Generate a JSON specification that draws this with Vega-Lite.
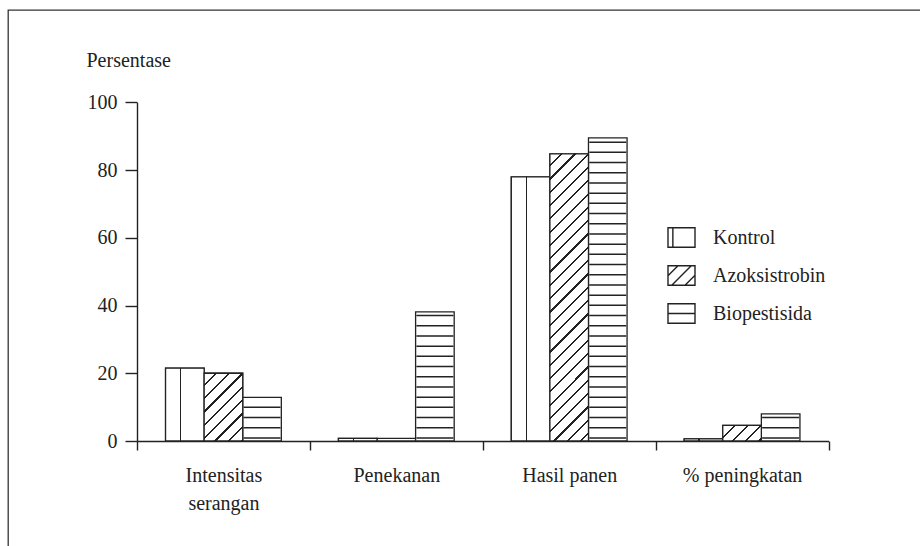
{
  "$schema": "https://vega.github.io/schema/vega-lite/v6.json",
  "width": 912,
  "height": 536,
  "autosize": "none",
  "padding": {"left": 8, "top": 10, "right": 0, "bottom": 0},
  "background": "white",
  "config": {
    "view": {"stroke": "#333", "strokeWidth": 1.3, "strokeDash": [912, 1448, 536]},
    "font": "Liberation Serif",
    "axisY": {
      "orient": "left", "offset": -129, "grid": false,
      "tickSize": 12, "tickWidth": 1.4, "tickColor": "#222", "domainColor": "#222", "domainWidth": 1.4,
      "labelPadding": 8, "labelFont": "Liberation Serif", "labelFontSize": 20, "labelColor": "#222",
      "titleAngle": 0, "titleX": -51, "titleY": 56, "titleAlign": "left",
      "titleBaseline": "alphabetic", "titleFont": "Liberation Serif", "titleFontSize": 20,
      "titleFontWeight": "normal", "titleColor": "#222"
    }
  },
  "data": {
    "values": [
      {"cat": "Intensitas serangan", "treat": "Kontrol", "value": 21.5},
      {"cat": "Intensitas serangan", "treat": "Azoksistrobin", "value": 20.0},
      {"cat": "Intensitas serangan", "treat": "Biopestisida", "value": 12.9},
      {"cat": "Penekanan", "treat": "Kontrol", "value": 0.8},
      {"cat": "Penekanan", "treat": "Azoksistrobin", "value": 0.8},
      {"cat": "Penekanan", "treat": "Biopestisida", "value": 38.1},
      {"cat": "Hasil panen", "treat": "Kontrol", "value": 78.0},
      {"cat": "Hasil panen", "treat": "Azoksistrobin", "value": 84.8},
      {"cat": "Hasil panen", "treat": "Biopestisida", "value": 89.5},
      {"cat": "% peningkatan", "treat": "Kontrol", "value": 0.6},
      {"cat": "% peningkatan", "treat": "Azoksistrobin", "value": 4.6},
      {"cat": "% peningkatan", "treat": "Biopestisida", "value": 8.0}
    ]
  },
  "encoding": {
    "x": {
      "field": "cat", "type": "nominal",
      "sort": ["Intensitas serangan", "Penekanan", "Hasil panen", "% peningkatan"],
      "scale": {"range": [129, 820.5], "paddingInner": 0, "paddingOuter": 0},
      "axis": {
        "orient": "bottom", "offset": -105, "title": null, "tickBand": "extent",
        "tickSize": 9, "tickWidth": 1.4, "tickColor": "#222", "domainColor": "#222", "domainWidth": 1.4,
        "labelAngle": 0, "labelPadding": 15, "labelFont": "Liberation Serif", "labelFontSize": 20,
        "labelColor": "#222", "labelLineHeight": 28, "labelLimit": 300,
        "labelExpr": "datum.value == 'Intensitas serangan' ? ['Intensitas', 'serangan'] : datum.label"
      }
    },
    "xOffset": {
      "field": "treat", "type": "nominal",
      "sort": ["Kontrol", "Azoksistrobin", "Biopestisida"],
      "scale": {"paddingInner": 0, "paddingOuter": 0.74}
    },
    "y": {
      "field": "value", "type": "quantitative",
      "scale": {"domain": [0, 100], "range": [431, 92.3], "nice": false},
      "axis": {"title": "Persentase", "values": [0, 20, 40, 60, 80, 100]}
    }
  },
  "layer": [
    {
      "mark": {"type": "bar", "fill": "#fff", "stroke": "#222", "strokeWidth": 1.3}
    },
    {
      "transform": [{"filter": "datum.treat == 'Kontrol'"}],
      "mark": {"type": "bar", "stroke": "#222", "strokeWidth": 1.3,
        "fill": {"gradient": "linear", "x1": 0, "y1": 0, "x2": 1, "y2": 0, "stops": [
          {"offset": 0, "color": "#fff"}, {"offset": 0.37, "color": "#fff"},
          {"offset": 0.37, "color": "#222"}, {"offset": 0.41, "color": "#222"},
          {"offset": 0.41, "color": "#fff"}, {"offset": 1, "color": "#fff"}]}}
    },
    {
      "transform": [{"filter": "datum.treat == 'Azoksistrobin' && datum.cat == 'Intensitas serangan'"}],
      "mark": {"type": "bar", "stroke": "#222", "strokeWidth": 1.3,
        "fill": {"gradient": "linear", "x1": 0, "y1": 0, "x2": 0.6751, "y2": 1.1851, "stops": [
          {"offset": 0, "color": "#fff"},
          {"offset": 0.1025, "color": "#fff"}, {"offset": 0.1025, "color": "#222"}, {"offset": 0.1232, "color": "#222"}, {"offset": 0.1232, "color": "#fff"},
          {"offset": 0.2276, "color": "#fff"}, {"offset": 0.2276, "color": "#222"}, {"offset": 0.2483, "color": "#222"}, {"offset": 0.2483, "color": "#fff"},
          {"offset": 0.3527, "color": "#fff"}, {"offset": 0.3527, "color": "#222"}, {"offset": 0.3734, "color": "#222"}, {"offset": 0.3734, "color": "#fff"},
          {"offset": 0.4778, "color": "#fff"}, {"offset": 0.4778, "color": "#222"}, {"offset": 0.4985, "color": "#222"}, {"offset": 0.4985, "color": "#fff"},
          {"offset": 0.6029, "color": "#fff"}, {"offset": 0.6029, "color": "#222"}, {"offset": 0.6235, "color": "#222"}, {"offset": 0.6235, "color": "#fff"},
          {"offset": 0.7279, "color": "#fff"}, {"offset": 0.7279, "color": "#222"}, {"offset": 0.7486, "color": "#222"}, {"offset": 0.7486, "color": "#fff"},
          {"offset": 0.8530, "color": "#fff"}, {"offset": 0.8530, "color": "#222"}, {"offset": 0.8737, "color": "#222"}, {"offset": 0.8737, "color": "#fff"},
          {"offset": 0.9781, "color": "#fff"}, {"offset": 0.9781, "color": "#222"}, {"offset": 0.9988, "color": "#222"}, {"offset": 0.9988, "color": "#fff"},
          {"offset": 1, "color": "#fff"}]}}
    },
    {
      "transform": [{"filter": "datum.treat == 'Azoksistrobin' && datum.cat == 'Hasil panen'"}],
      "mark": {"type": "bar", "stroke": "#222", "strokeWidth": 1.3,
        "fill": {"gradient": "linear", "x1": 0, "y1": 0, "x2": 0.14972, "y2": 1.11428, "stops": [
          {"offset": 0, "color": "#fff"},
          {"offset": 0.0335, "color": "#fff"}, {"offset": 0.0335, "color": "#222"}, {"offset": 0.0402, "color": "#222"}, {"offset": 0.0402, "color": "#fff"},
          {"offset": 0.0743, "color": "#fff"}, {"offset": 0.0743, "color": "#222"}, {"offset": 0.0810, "color": "#222"}, {"offset": 0.0810, "color": "#fff"},
          {"offset": 0.1151, "color": "#fff"}, {"offset": 0.1151, "color": "#222"}, {"offset": 0.1219, "color": "#222"}, {"offset": 0.1219, "color": "#fff"},
          {"offset": 0.1559, "color": "#fff"}, {"offset": 0.1559, "color": "#222"}, {"offset": 0.1627, "color": "#222"}, {"offset": 0.1627, "color": "#fff"},
          {"offset": 0.1967, "color": "#fff"}, {"offset": 0.1967, "color": "#222"}, {"offset": 0.2035, "color": "#222"}, {"offset": 0.2035, "color": "#fff"},
          {"offset": 0.2376, "color": "#fff"}, {"offset": 0.2376, "color": "#222"}, {"offset": 0.2443, "color": "#222"}, {"offset": 0.2443, "color": "#fff"},
          {"offset": 0.2784, "color": "#fff"}, {"offset": 0.2784, "color": "#222"}, {"offset": 0.2852, "color": "#222"}, {"offset": 0.2852, "color": "#fff"},
          {"offset": 0.3192, "color": "#fff"}, {"offset": 0.3192, "color": "#222"}, {"offset": 0.3260, "color": "#222"}, {"offset": 0.3260, "color": "#fff"},
          {"offset": 0.3600, "color": "#fff"}, {"offset": 0.3600, "color": "#222"}, {"offset": 0.3668, "color": "#222"}, {"offset": 0.3668, "color": "#fff"},
          {"offset": 0.4009, "color": "#fff"}, {"offset": 0.4009, "color": "#222"}, {"offset": 0.4076, "color": "#222"}, {"offset": 0.4076, "color": "#fff"},
          {"offset": 0.4417, "color": "#fff"}, {"offset": 0.4417, "color": "#222"}, {"offset": 0.4485, "color": "#222"}, {"offset": 0.4485, "color": "#fff"},
          {"offset": 0.4825, "color": "#fff"}, {"offset": 0.4825, "color": "#222"}, {"offset": 0.4893, "color": "#222"}, {"offset": 0.4893, "color": "#fff"},
          {"offset": 0.5233, "color": "#fff"}, {"offset": 0.5233, "color": "#222"}, {"offset": 0.5301, "color": "#222"}, {"offset": 0.5301, "color": "#fff"},
          {"offset": 0.5641, "color": "#fff"}, {"offset": 0.5641, "color": "#222"}, {"offset": 0.5709, "color": "#222"}, {"offset": 0.5709, "color": "#fff"},
          {"offset": 0.6050, "color": "#fff"}, {"offset": 0.6050, "color": "#222"}, {"offset": 0.6118, "color": "#222"}, {"offset": 0.6118, "color": "#fff"},
          {"offset": 0.6458, "color": "#fff"}, {"offset": 0.6458, "color": "#222"}, {"offset": 0.6526, "color": "#222"}, {"offset": 0.6526, "color": "#fff"},
          {"offset": 0.6866, "color": "#fff"}, {"offset": 0.6866, "color": "#222"}, {"offset": 0.6934, "color": "#222"}, {"offset": 0.6934, "color": "#fff"},
          {"offset": 0.7274, "color": "#fff"}, {"offset": 0.7274, "color": "#222"}, {"offset": 0.7342, "color": "#222"}, {"offset": 0.7342, "color": "#fff"},
          {"offset": 0.7683, "color": "#fff"}, {"offset": 0.7683, "color": "#222"}, {"offset": 0.7751, "color": "#222"}, {"offset": 0.7751, "color": "#fff"},
          {"offset": 0.8091, "color": "#fff"}, {"offset": 0.8091, "color": "#222"}, {"offset": 0.8159, "color": "#222"}, {"offset": 0.8159, "color": "#fff"},
          {"offset": 0.8499, "color": "#fff"}, {"offset": 0.8499, "color": "#222"}, {"offset": 0.8567, "color": "#222"}, {"offset": 0.8567, "color": "#fff"},
          {"offset": 0.8907, "color": "#fff"}, {"offset": 0.8907, "color": "#222"}, {"offset": 0.8975, "color": "#222"}, {"offset": 0.8975, "color": "#fff"},
          {"offset": 0.9315, "color": "#fff"}, {"offset": 0.9315, "color": "#222"}, {"offset": 0.9383, "color": "#222"}, {"offset": 0.9383, "color": "#fff"},
          {"offset": 0.9724, "color": "#fff"}, {"offset": 0.9724, "color": "#222"}, {"offset": 0.9792, "color": "#222"}, {"offset": 0.9792, "color": "#fff"},
          {"offset": 1, "color": "#fff"}]}}
    },
    {
      "transform": [{"filter": "datum.treat == 'Azoksistrobin' && datum.cat == '% peningkatan'"}],
      "mark": {"type": "bar", "stroke": "#222", "strokeWidth": 1.3,
        "fill": {"gradient": "linear", "x1": 0, "y1": 0, "x2": 1.2070, "y2": 0.4876, "stops": [
          {"offset": 0, "color": "#fff"},
          {"offset": 0.2013, "color": "#fff"}, {"offset": 0.2013, "color": "#222"}, {"offset": 0.2419, "color": "#222"}, {"offset": 0.2419, "color": "#fff"},
          {"offset": 0.4468, "color": "#fff"}, {"offset": 0.4468, "color": "#222"}, {"offset": 0.4874, "color": "#222"}, {"offset": 0.4874, "color": "#fff"},
          {"offset": 0.6924, "color": "#fff"}, {"offset": 0.6924, "color": "#222"}, {"offset": 0.7330, "color": "#222"}, {"offset": 0.7330, "color": "#fff"},
          {"offset": 0.9380, "color": "#fff"}, {"offset": 0.9380, "color": "#222"}, {"offset": 0.9786, "color": "#222"}, {"offset": 0.9786, "color": "#fff"},
          {"offset": 1, "color": "#fff"}]}}
    },
    {
      "transform": [{"filter": "datum.treat == 'Biopestisida'"}],
      "mark": {"type": "rule", "color": "#222", "strokeWidth": 37, "strokeCap": "butt",
        "strokeDash": [1.5, 8.7], "strokeDashOffset": 7.9},
      "encoding": {
        "y": {"datum": 0, "type": "quantitative", "axis": {"title": "Persentase", "values": [0, 20, 40, 60, 80, 100]}},
        "y2": {"field": "value"}
      }
    },
    {
      "mark": {"type": "point", "opacity": 0, "color": "#222", "filled": false},
      "encoding": {
        "shape": {
          "field": "treat", "type": "nominal",
          "sort": ["Kontrol", "Azoksistrobin", "Biopestisida"],
          "scale": {
            "domain": ["Kontrol", "Azoksistrobin", "Biopestisida"],
            "range": [
              "M-1,-0.72H1V0.72H-1Z M-0.64,-0.72V0.72",
              "M-1,-0.72H1V0.72H-1Z M-1,0.02L-0.26,-0.72 M-0.72,0.72L0.72,-0.72 M0.26,0.72L1,-0.02",
              "M-1,-0.72H1V0.72H-1Z M-1,0H1"
            ]
          },
          "legend": {
            "title": null, "orient": "none", "legendX": 659, "legendY": 213, "padding": 0,
            "symbolSize": 729, "symbolStrokeWidth": 1.4, "labelOffset": 17, "rowPadding": 10,
            "symbolStrokeColor": "#222", "symbolFillColor": "#fff",
            "labelFont": "Liberation Serif", "labelFontSize": 20, "labelColor": "#222",
            "encode": {
              "symbols": {
                "update": {
                  "opacity": {"value": 1},
                  "fill": {"value": "#fff"}, "fillOpacity": {"value": 1},
                  "stroke": {"value": "#222"}, "strokeOpacity": {"value": 1},
                  "strokeWidth": {"value": 1.4}
                }
              }
            }
          }
        }
      }
    }
  ]
}
